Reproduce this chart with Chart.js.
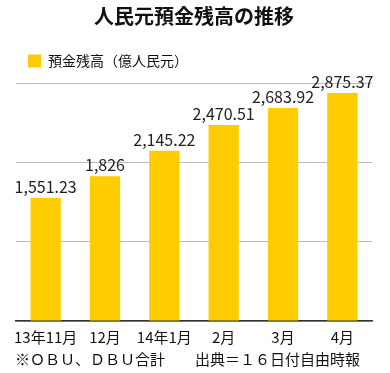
<!DOCTYPE html>
<html>
<head>
<meta charset="utf-8">
<script src="https://cdn.jsdelivr.net/npm/chart.js@4"></script>
<style>
  html, body { margin: 0; padding: 0; background: #fff; }
  #wrap { width: 390px; height: 373px; }
</style>
</head>
<body>
<div id="wrap"><canvas id="barchart" width="390" height="373"></canvas></div>
<script>
const months = ["13年11月", "12月", "14年1月", "2月", "3月", "4月"];
const deposits = [1551.23, 1826, 2145.22, 2470.51, 2683.92, 2875.37];
const depositLabels = ["1,551.23", "1,826", "2,145.22", "2,470.51", "2,683.92", "2,875.37"];
const seriesName = "預金残高（億人民元）";
const chartTitle = "人民元預金残高の推移";
const footNote = "※ＯＢＵ、ＤＢＵ合計　　出典＝１６日付自由時報";

const fontFamily = '"Noto Sans CJK JP", "Noto Sans", sans-serif';
Chart.defaults.font.family = fontFamily;
Chart.defaults.color = "#111";

// value labels above each bar + footnote line
const extras = {
  id: "extras",
  afterDatasetsDraw(chart) {
    const c = chart.ctx;
    const meta = chart.getDatasetMeta(0);
    c.save();
    c.font = "16px " + fontFamily;
    c.fillStyle = "#222";
    c.textAlign = "center";
    c.textBaseline = "bottom";
    meta.data.forEach(function (bar, i) {
      c.fillText(depositLabels[i], bar.x, bar.y - 3);
    });
    c.font = "15px " + fontFamily;
    c.textAlign = "left";
    c.textBaseline = "middle";
    c.fillStyle = "#111";
    c.fillText(footNote, 15, 359);
    c.restore();
  }
};

// push the plot area a bit lower under the legend
const legendGap = {
  id: "legendGap",
  beforeInit(chart) {
    const fit = chart.legend.fit;
    chart.legend.fit = function () {
      fit.bind(chart.legend)();
      this.height += 5;
    };
  }
};

new Chart(document.getElementById("barchart"), {
  type: "bar",
  data: {
    labels: months,
    datasets: [
      {
        label: seriesName,
        data: deposits,
        backgroundColor: "#FFCC00",
        barPercentage: 0.51,
        categoryPercentage: 1.0,
      },
    ],
  },
  options: {
    responsive: false,
    animation: false,
    layout: { padding: { left: 16, right: 18, top: 0, bottom: 20 } },
    plugins: {
      title: {
        display: true,
        text: chartTitle,
        color: "#111",
        font: { size: 20, weight: "bold" },
        padding: { top: 4, bottom: 14 },
      },
      legend: {
        align: "start",
        labels: {
          boxWidth: 13,
          boxHeight: 13,
          padding: 12,
          color: "#111",
          font: { size: 14 },
        },
      },
      tooltip: { enabled: false },
    },
    scales: {
      x: {
        grid: { display: false, drawTicks: false },
        border: { color: "#333", width: 1.5 },
        ticks: { color: "#111", font: { size: 15 }, padding: 7, maxRotation: 0, autoSkip: false },
      },
      y: {
        min: 0,
        max: 3000,
        ticks: { display: false, stepSize: 1000 },
        grid: { color: "#bbb", drawTicks: false },
        border: { display: false },
      },
    },
  },
  plugins: [extras, legendGap],
});
</script>
</body>
</html>
